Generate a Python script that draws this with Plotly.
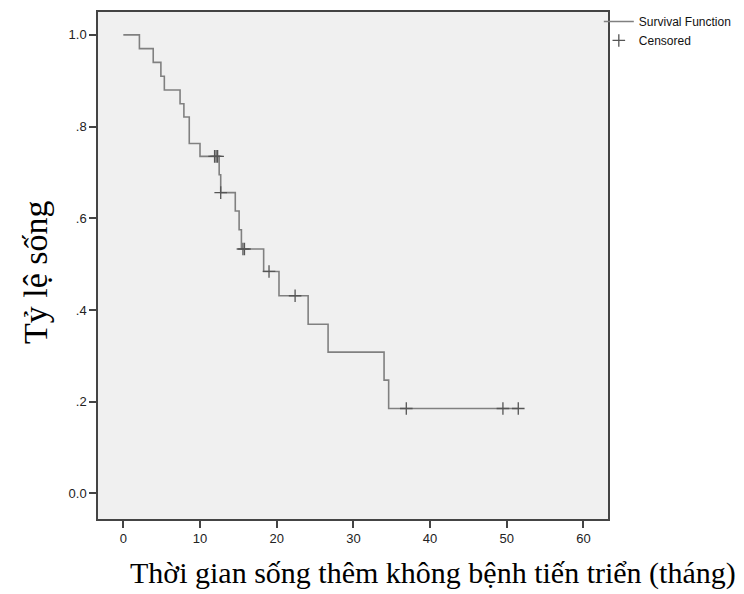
import plotly.graph_objects as go

# Kaplan-Meier step values
step_times = [0, 2.1, 3.9, 4.9, 5.35, 7.4, 7.9, 8.6, 10.0, 12.5, 12.7, 14.6, 15.1, 15.4,
              18.3, 20.3, 24.1, 26.7, 34.0, 34.6, 51.5]
survival = [1.0, 0.970, 0.940, 0.910, 0.880, 0.850, 0.821, 0.763, 0.735, 0.695, 0.656,
            0.616, 0.575, 0.533, 0.484, 0.431, 0.369, 0.308, 0.247, 0.185, 0.185]

censor_times = [11.9, 12.1, 12.3, 12.7, 15.6, 15.8, 19.0, 22.4, 36.9, 49.5, 51.5]
censor_surv = [0.735, 0.735, 0.735, 0.656, 0.533, 0.533, 0.484, 0.431, 0.185, 0.185, 0.185]

x_ticks = [0, 10, 20, 30, 40, 50, 60]
y_ticks = [0.0, 0.2, 0.4, 0.6, 0.8, 1.0]
y_tick_labels = ["0.0", ".2", ".4", ".6", ".8", "1.0"]

x_title = "Thời gian sống thêm không bệnh tiến triển (tháng)"
y_title = "Tỷ lệ sống"

fig = go.Figure()
fig.add_trace(go.Scatter(
    x=step_times, y=survival, mode="lines", line_shape="hv",
    line=dict(color="#808080", width=1.6), name="Survival Function"))
fig.add_trace(go.Scatter(
    x=censor_times, y=censor_surv, mode="markers",
    marker=dict(symbol="cross-thin", size=9, line=dict(color="#555555", width=1.3)),
    name="Censored"))

# page body adds an 8px offset; target coordinates below are in figure pixels
W, H = 744, 594
L, R, T, B = 90, 144, 4, 83
PW, PH = W - L - R, H - T - B

fig.update_layout(
    width=W, height=H,
    margin=dict(l=L, r=R, t=T, b=B, autoexpand=False),
    paper_bgcolor="white", plot_bgcolor="#f0f0f0",
    font=dict(family="Liberation Sans, Arial", size=13, color="#222222"),
    showlegend=True,
    legend=dict(x=0.982, y=1.01, xanchor="left", yanchor="top",
                font=dict(size=12, color="#111111"), bgcolor="rgba(0,0,0,0)",
                itemwidth=30, tracegroupgap=0),
    xaxis=dict(range=[-3.3, 63.2], tickvals=x_ticks, ticks="outside", ticklen=7,
               tickcolor="#444444", tickwidth=1.5, showgrid=False, zeroline=False,
               showline=True, linecolor="#444444", linewidth=1.5, mirror=True),
    yaxis=dict(range=[-0.056, 1.05], tickvals=y_ticks, ticktext=y_tick_labels,
               ticks="outside", ticklen=7, tickcolor="#444444", tickwidth=1.5,
               showgrid=False, zeroline=False, showline=True, linecolor="#444444",
               linewidth=1.5, mirror=True),
    annotations=[
        dict(text=x_title, xref="paper", yref="paper",
             x=(425 - L) / PW, y=-(565 - (H - B)) / PH,
             xanchor="center", yanchor="middle", showarrow=False,
             font=dict(family="Liberation Serif, Times New Roman", size=30, color="#000000")),
        dict(text=y_title, xref="paper", yref="paper",
             x=-(L - 27) / PW, y=((H - B) - 264) / PH,
             xanchor="center", yanchor="middle", showarrow=False, textangle=-90,
             font=dict(family="Liberation Serif, Times New Roman", size=34, color="#000000")),
    ],
)

fig.write_html("out.html")
